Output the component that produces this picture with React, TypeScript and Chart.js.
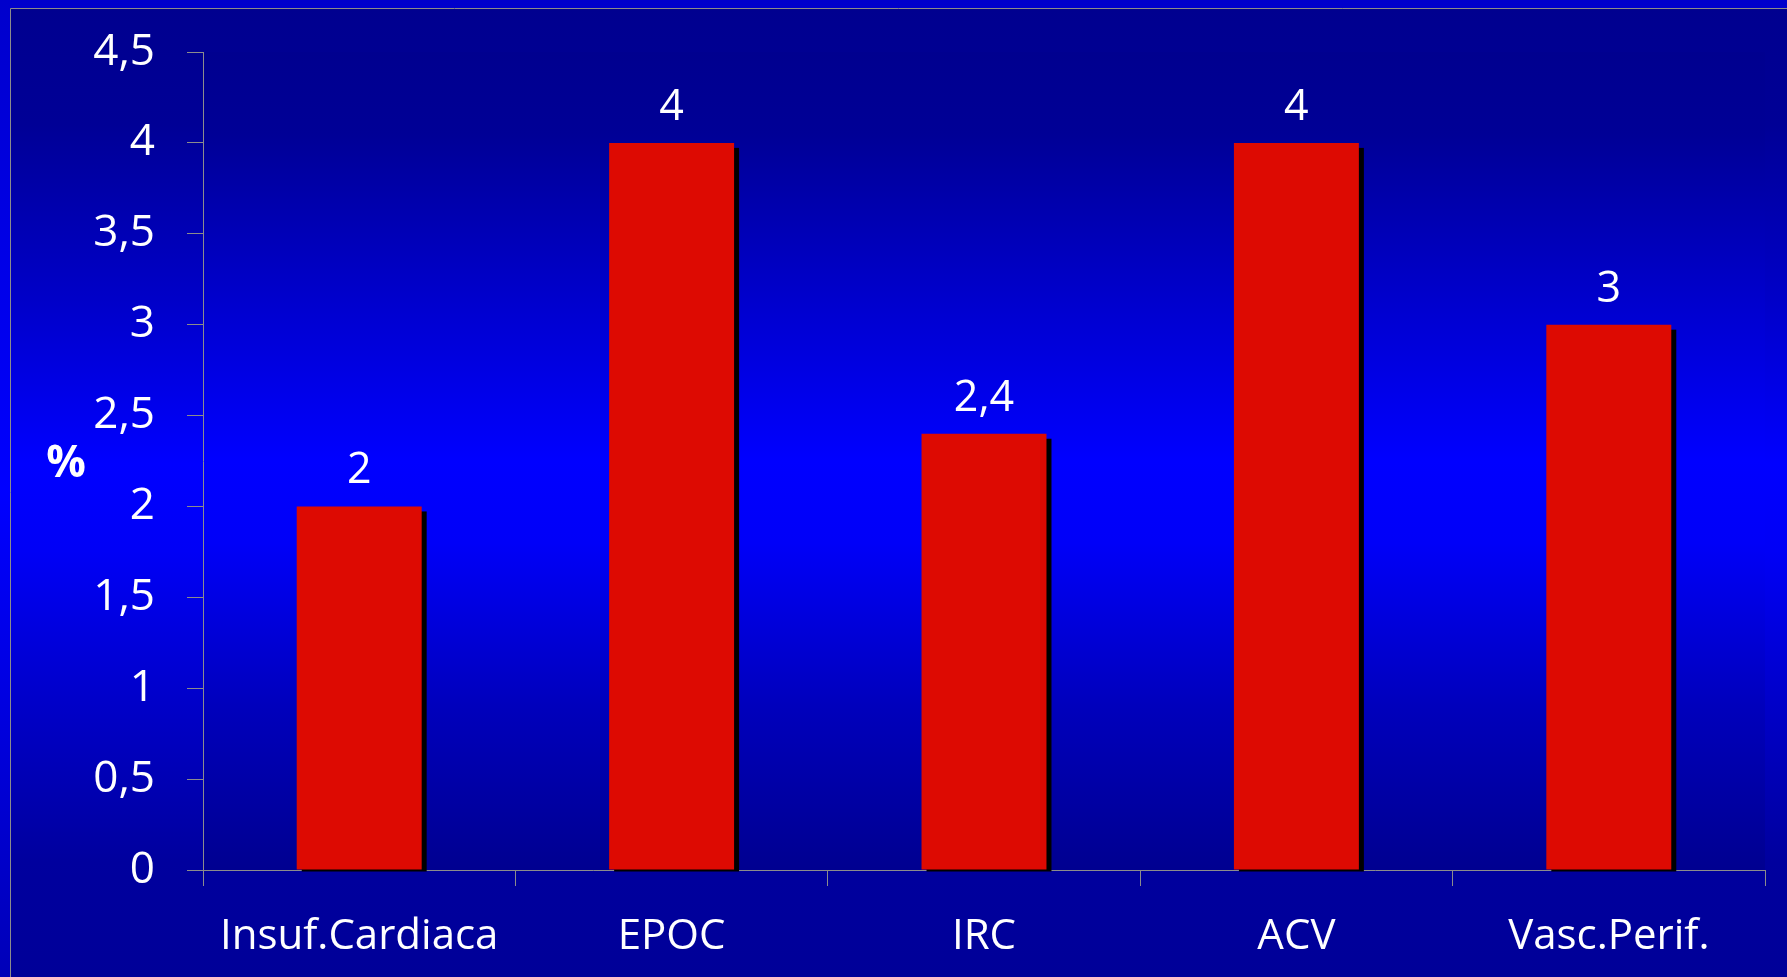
import React, { useEffect, useRef } from "react";
import { Chart, registerables } from "chart.js";

Chart.register(...registerables);

// Chart data
const categories = ["Insuf.Cardiaca", "EPOC", "IRC", "ACV", "Vasc.Perif."];
const values = [2, 4, 2.4, 4, 3];
const valueLabels = ["2", "4", "2,4", "4", "3"];
const yTickValues = [0, 0.5, 1, 1.5, 2, 2.5, 3, 3.5, 4, 4.5];
const yTickLabels = ["0", "0,5", "1", "1,5", "2", "2,5", "3", "3,5", "4", "4,5"];
const yAxisUnit = "%";

const W = 1787;
const H = 977;
const FONT = "'Open Sans', Lato, sans-serif";
const GRAY = "#8c8c8c";
const BAR_RED = "#dd0a02";

// Slide-style backdrop: lighter outer frame, darker inner panel, bright band across the middle
const backdropPlugin = {
  id: "backdrop",
  beforeDraw(chart: any) {
    const ctx = chart.ctx;
    ctx.save();
    const outer = ctx.createLinearGradient(0, 0, 0, H);
    outer.addColorStop(0, "#0000cc");
    outer.addColorStop(0.5, "#0000ff");
    outer.addColorStop(1, "#0000b8");
    ctx.fillStyle = outer;
    ctx.fillRect(0, 0, W, H);

    const inner = ctx.createLinearGradient(0, 8, 0, H);
    inner.addColorStop(0, "#00008f");
    inner.addColorStop(0.12, "#000096");
    inner.addColorStop(0.3, "#0000c8");
    inner.addColorStop(0.47, "#0000ff");
    inner.addColorStop(0.56, "#0000f6");
    inner.addColorStop(0.72, "#0000c8");
    inner.addColorStop(0.88, "#00009e");
    inner.addColorStop(1, "#000098");
    ctx.fillStyle = inner;
    ctx.fillRect(10, 8, W - 10, H - 8);

    const a = chart.chartArea;
    const plot = ctx.createLinearGradient(0, a.top, 0, a.bottom);
    plot.addColorStop(0, "#00008f");
    plot.addColorStop(0.1, "#000096");
    plot.addColorStop(0.3, "#0000cc");
    plot.addColorStop(0.5, "#0000ff");
    plot.addColorStop(0.6, "#0000f8");
    plot.addColorStop(0.8, "#0000bc");
    plot.addColorStop(1, "#000090");
    ctx.fillStyle = plot;
    ctx.fillRect(a.left, a.top, a.right - a.left, a.bottom - a.top);

    ctx.strokeStyle = GRAY;
    ctx.lineWidth = 1;
    ctx.beginPath();
    ctx.moveTo(10.5, H);
    ctx.lineTo(10.5, 8.5);
    ctx.lineTo(W, 8.5);
    ctx.stroke();
    ctx.restore();
  },
};

// Black drop shadow behind each bar
const barShadowPlugin = {
  id: "barShadow",
  beforeDatasetsDraw(chart: any) {
    const ctx = chart.ctx;
    const meta = chart.getDatasetMeta(0);
    ctx.save();
    ctx.fillStyle = "#000000";
    meta.data.forEach((bar: any) => {
      const { x, y, base, width } = bar.getProps(["x", "y", "base", "width"], true);
      ctx.fillRect(x - width / 2 + 5, y + 5, width, base - y - 3);
    });
    ctx.restore();
  },
};

// Value labels above the bars and the unit label beside the value axis
const labelsPlugin = {
  id: "valueLabels",
  afterDatasetsDraw(chart: any) {
    const ctx = chart.ctx;
    const meta = chart.getDatasetMeta(0);
    ctx.save();
    ctx.fillStyle = "#ffffff";
    ctx.textAlign = "center";
    ctx.textBaseline = "alphabetic";
    ctx.font = `43px ${FONT}`;
    meta.data.forEach((bar: any, i: number) => {
      const { x, y } = bar.getProps(["x", "y"], true);
      ctx.fillText(valueLabels[i], x, y - 23);
    });

    const a = chart.chartArea;
    ctx.font = `bold 44px ${FONT}`;
    ctx.fillText(yAxisUnit, 66, (a.top + a.bottom) / 2 + 16);
    ctx.restore();
  },
};

export default function App() {
  const canvasRef = useRef<HTMLCanvasElement | null>(null);

  useEffect(() => {
    const canvas = canvasRef.current;
    if (!canvas) return;
    const chart = new Chart(canvas, {
      type: "bar",
      data: {
        labels: categories,
        datasets: [
          {
            data: values,
            backgroundColor: BAR_RED,
            borderWidth: 0,
            barPercentage: 0.4,
            categoryPercentage: 1,
          },
        ],
      },
      options: {
        responsive: false,
        animation: false,
        layout: { padding: { left: 0, top: 52, right: 22, bottom: 0 } },
        plugins: {
          legend: { display: false },
          tooltip: { enabled: false },
        },
        scales: {
          x: {
            grid: {
              display: true,
              drawOnChartArea: false,
              drawTicks: true,
              tickLength: 16,
              color: GRAY,
              offset: true,
            },
            border: { display: true, color: GRAY, width: 1 },
            ticks: {
              color: "#ffffff",
              font: { family: FONT, size: 42 },
              padding: 26,
              maxRotation: 0,
              autoSkip: false,
            },
            afterFit: (scale: any) => {
              scale.height = 107;
              scale.paddingLeft = 0;
              scale.paddingRight = 0;
            },
          },
          y: {
            min: 0,
            max: 4.5,
            afterBuildTicks: (scale: any) => {
              scale.ticks = yTickValues.map((v) => ({ value: v }));
            },
            ticks: {
              color: "#ffffff",
              font: { family: FONT, size: 44 },
              padding: 32,
              callback: (_v: any, i: number) => yTickLabels[i],
            },
            grid: {
              drawOnChartArea: false,
              drawTicks: true,
              tickLength: 16,
              color: GRAY,
            },
            border: { display: true, color: GRAY, width: 1 },
            afterFit: (scale: any) => {
              scale.width = 203;
              scale.paddingTop = 0;
              scale.paddingBottom = 0;
            },
          },
        },
      },
      plugins: [backdropPlugin, barShadowPlugin, labelsPlugin],
    });
    return () => chart.destroy();
  }, []);

  return (
    <div style={{ position: "fixed", left: 0, top: 0, width: W, height: H }}>
      <canvas ref={canvasRef} width={W} height={H} style={{ display: "block" }} />
    </div>
  );
}
